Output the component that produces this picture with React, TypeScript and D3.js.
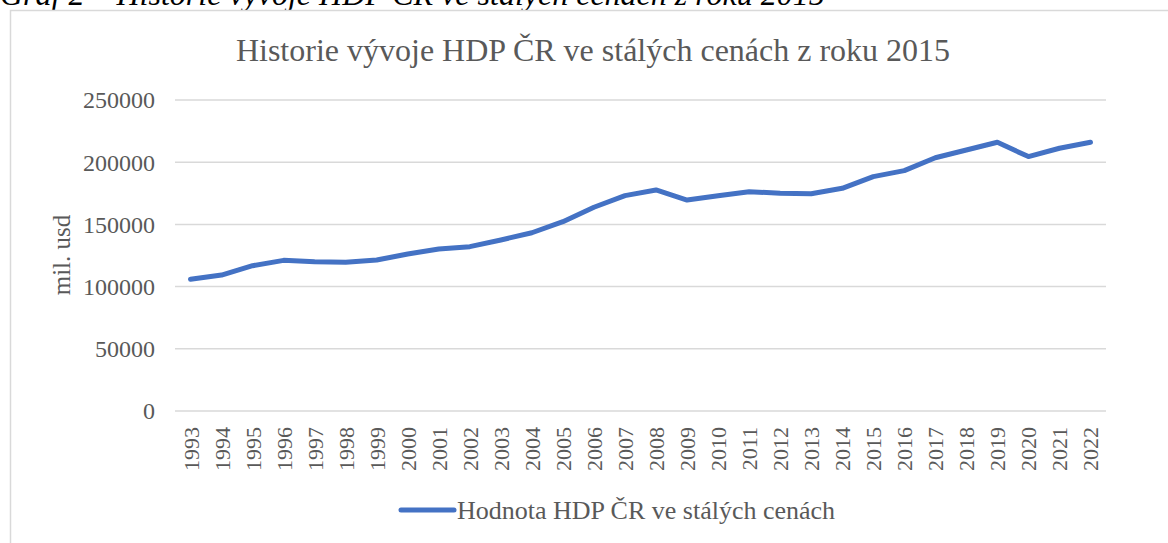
import React from "react";
import * as d3 from "d3";

const years = ["1993","1994","1995","1996","1997","1998","1999","2000","2001","2002","2003","2004","2005","2006","2007","2008","2009","2010","2011","2012","2013","2014","2015","2016","2017","2018","2019","2020","2021","2022"];
const gdp = [105900,109300,116800,121100,120000,119500,121400,126200,130200,132100,137500,143300,152200,163800,173100,177700,169600,173100,176300,175000,174700,179000,188400,193200,203600,209800,216000,204500,211200,216000];
const yTicks = [0,50000,100000,150000,200000,250000];

const W = 1168, H = 543;
const left = 175, right = 1106, top = 100, bottom = 411;
const grey = "#595959";
const font = "'Liberation Serif', 'Times New Roman', serif";

export default function App() {
  const x = d3.scaleBand<string>().domain(years).range([left, right]);
  const y = d3.scaleLinear().domain([0, 250000]).range([bottom, top]);
  const line = d3.line<number>()
    .x((_, i) => (x(years[i]) as number) + x.bandwidth() / 2)
    .y((d) => y(d));
  return (
    <svg width={W} height={H} style={{ position: "absolute", left: 0, top: 0, background: "#fff" }} fontFamily={font}>
      <rect x={0} y={0} width={W} height={H} fill="#fff" />
      <text x={0} y={5} fontSize={32} fontStyle="italic" fill="#000">Graf 2 – Historie vývoje HDP ČR ve stálých cenách z roku 2015</text>
      <rect x={10.5} y={10.5} width={1180} height={560} fill="#fff" stroke="#d9d9d9" strokeWidth={1.5} />
      <text x={593} y={61} textAnchor="middle" fontSize={32} fill={grey}>Historie vývoje HDP ČR ve stálých cenách z roku 2015</text>
      {yTicks.map((t) => (
        <g key={t}>
          <line x1={left} x2={right} y1={y(t)} y2={y(t)} stroke="#d9d9d9" strokeWidth={1.5} />
          <text x={155} y={y(t)} dy="0.35em" textAnchor="end" fontSize={24} fill={grey}>{t}</text>
        </g>
      ))}
      <text transform={`translate(70,${255}) rotate(-90)`} textAnchor="middle" fontSize={25} fill={grey}>mil. usd</text>
      {years.map((yr) => (
        <text key={yr} transform={`translate(${(x(yr) as number) + x.bandwidth() / 2 + 8},${427}) rotate(-90)`} textAnchor="end" fontSize={22} fill={grey}>{yr}</text>
      ))}
      <path d={line(gdp) || ""} fill="none" stroke="#4472C4" strokeWidth={5} strokeLinejoin="round" strokeLinecap="round" />
      <line x1={401} x2={454} y1={510} y2={510} stroke="#4472C4" strokeWidth={5} strokeLinecap="round" />
      <text x={457} y={519} fontSize={26} fill={grey}>Hodnota HDP ČR ve stálých cenách</text>
    </svg>
  );
}
